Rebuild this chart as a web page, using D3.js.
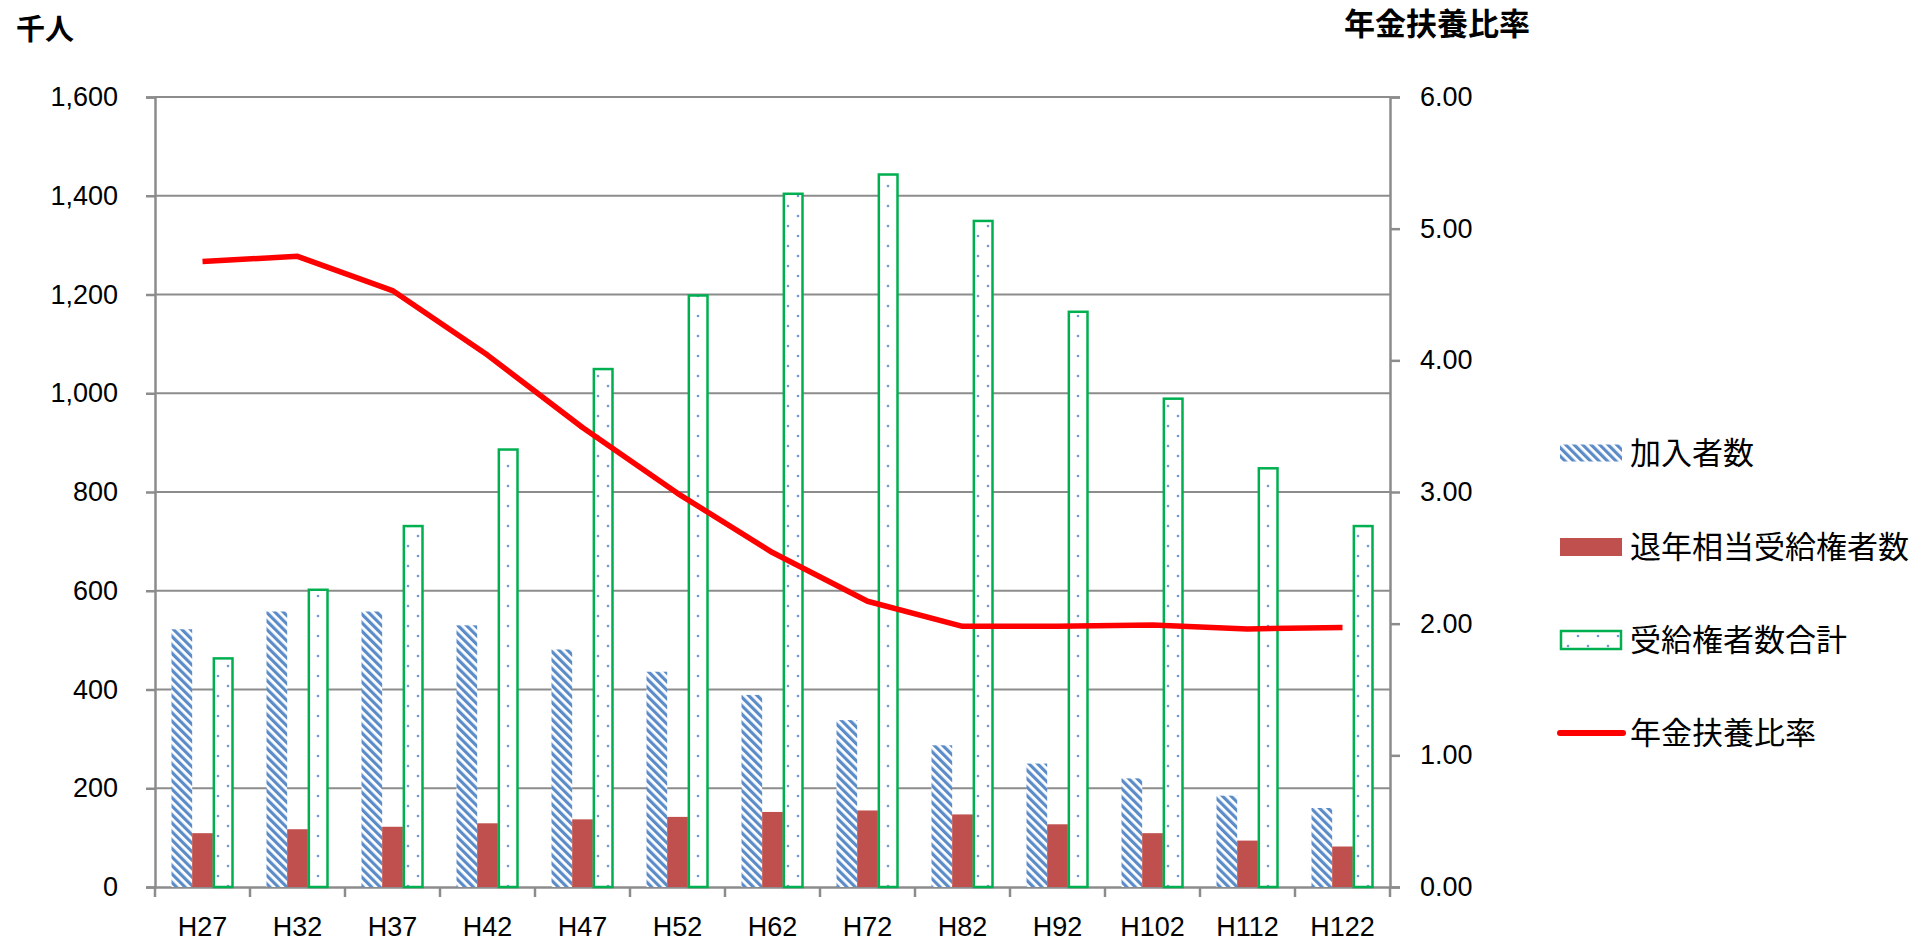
<!DOCTYPE html>
<meta charset="utf-8">
<style>
  body { margin: 0; background: #fff; }
  text { font-family: 'Liberation Sans', Arial, sans-serif; fill: #000; }
  .jp { font-family: 'Noto Sans CJK JP', sans-serif; }
</style>
<script src="https://d3js.org/d3.v7.min.js"></script>
<div id="chart"></div>
<script>
// data (thousand persons / ratio)
var years = ["H27","H32","H37","H42","H47","H52","H62","H72","H82","H92","H102","H112","H122"];
var members = [522, 558, 558, 530, 481, 436, 389, 338, 287, 250, 220, 185, 160];
var retiredEq = [109, 117, 122, 129, 137, 142, 152, 155, 147, 127, 109, 94, 82];
var recipients = [463, 602, 731, 886, 1049, 1198, 1404, 1443, 1349, 1165, 989, 848, 731];
var ratio = [4.75, 4.79, 4.53, 4.04, 3.49, 2.99, 2.54, 2.17, 1.98, 1.98, 1.99, 1.96, 1.97];
var leftTicks = [0, 200, 400, 600, 800, 1000, 1200, 1400, 1600];
var rightTicks = [0, 1, 2, 3, 4, 5, 6];
var seriesNames = ["加入者数", "退年相当受給権者数", "受給権者数合計", "年金扶養比率"];

var W = 1923, H = 944;
var plot = {left: 155, right: 1390, top: 97, bottom: 887};

var svg = d3.select("#chart").append("svg")
  .attr("width", W).attr("height", H);

// patterns
var defs = svg.append("defs");
var stripe = defs.append("pattern")
  .attr("id", "stripe")
  .attr("patternUnits", "userSpaceOnUse")
  .attr("width", 6).attr("height", 6)
  .attr("patternTransform", "rotate(-45)");
stripe.append("rect").attr("width", 6).attr("height", 6).attr("fill", "#fff");
stripe.append("rect").attr("width", 3.2).attr("height", 6).attr("fill", "#5b8cc8");

var dots = defs.append("pattern")
  .attr("id", "dots")
  .attr("patternUnits", "userSpaceOnUse")
  .attr("x", 3).attr("y", 1)
  .attr("width", 20).attr("height", 20);
dots.append("rect").attr("width", 20).attr("height", 20).attr("fill", "#fff");
dots.append("circle").attr("cx", 5).attr("cy", 5).attr("r", 1.3).attr("fill", "#6f9bd3");
dots.append("circle").attr("cx", 15).attr("cy", 15).attr("r", 1.3).attr("fill", "#6f9bd3");

// scales
var x = d3.scaleBand().domain(years).range([plot.left, plot.right]);
var inner = d3.scaleBand().domain([0, 1, 2])
  .range([16.5, x.bandwidth() - 16.5]);
var y = d3.scaleLinear().domain([0, 1600]).range([plot.bottom, plot.top]);
var y2 = d3.scaleLinear().domain([0, 6]).range([plot.bottom, plot.top]);

// gridlines
svg.append("g")
  .selectAll("line")
  .data(leftTicks.filter(function(d) { return d > 0; }))
  .enter().append("line")
    .attr("x1", plot.left).attr("x2", plot.right)
    .attr("y1", function(d) { return y(d); })
    .attr("y2", function(d) { return y(d); })
    .attr("stroke", "#8c8c8c")
    .attr("stroke-width", 2);

// left axis
var gl = svg.append("g")
  .attr("transform", "translate(" + plot.left + ",0)")
  .call(d3.axisLeft(y).tickValues(leftTicks).tickSize(9).tickPadding(28)
    .tickFormat(d3.format(",")));
gl.selectAll("text").style("font-size", "27px");

// right axis
var gr = svg.append("g")
  .attr("transform", "translate(" + plot.right + ",0)")
  .call(d3.axisRight(y2).tickValues(rightTicks).tickSize(10).tickPadding(20)
    .tickFormat(d3.format(".2f")));
gr.selectAll("text").style("font-size", "27px");

// bottom axis
var gb = svg.append("g")
  .attr("transform", "translate(0," + plot.bottom + ")")
  .call(d3.axisBottom(x).tickSize(0).tickPadding(30));
gb.selectAll("text").style("font-size", "27px");
gb.selectAll(".sep")
  .data(d3.range(years.length + 1))
  .enter().append("line")
    .attr("class", "sep")
    .attr("x1", function(i) { return plot.left + i * x.step(); })
    .attr("x2", function(i) { return plot.left + i * x.step(); })
    .attr("y1", 0).attr("y2", 10)
    .attr("stroke", "#8c8c8c").attr("stroke-width", 2.5);

[gl, gr, gb].forEach(function(g) {
  g.select(".domain").attr("stroke", "#8c8c8c").attr("stroke-width", 2.5);
  g.selectAll(".tick line").attr("stroke", "#8c8c8c").attr("stroke-width", 2.5);
});

// bars
svg.append("g").selectAll("rect")
  .data(members).enter().append("rect")
    .attr("x", function(d, i) { return x(years[i]) + inner(0); })
    .attr("y", function(d) { return y(d); })
    .attr("width", inner.bandwidth())
    .attr("height", function(d) { return plot.bottom - y(d); })
    .attr("fill", "url(#stripe)");

svg.append("g").selectAll("rect")
  .data(retiredEq).enter().append("rect")
    .attr("x", function(d, i) { return x(years[i]) + inner(1); })
    .attr("y", function(d) { return y(d); })
    .attr("width", inner.bandwidth())
    .attr("height", function(d) { return plot.bottom - y(d); })
    .attr("fill", "#c0504d");

svg.append("g").selectAll("rect")
  .data(recipients).enter().append("rect")
    .attr("x", function(d, i) { return x(years[i]) + inner(2) + 1; })
    .attr("y", function(d) { return y(d); })
    .attr("width", inner.bandwidth() - 2)
    .attr("height", function(d) { return plot.bottom - y(d); })
    .attr("fill", "url(#dots)")
    .attr("stroke", "#00b050")
    .attr("stroke-width", 2.5);

// ratio line
var line = d3.line()
  .x(function(d, i) { return x(years[i]) + x.bandwidth() / 2; })
  .y(function(d) { return y2(d); });
svg.append("path")
  .datum(ratio)
  .attr("d", line)
  .attr("fill", "none")
  .attr("stroke", "#ff0000")
  .attr("stroke-width", 5.5)
  .attr("stroke-linejoin", "round");

// axis titles
svg.append("text").attr("class", "jp")
  .attr("x", 16).attr("y", 40)
  .style("font-size", "29px").style("font-weight", "bold")
  .text("千人");
svg.append("text").attr("class", "jp")
  .attr("x", 1344).attr("y", 35)
  .style("font-size", "31px").style("font-weight", "bold")
  .text("年金扶養比率");

// legend
var lg = svg.append("g").attr("transform", "translate(1560,0)");
var ly = [453, 547, 640, 733];
lg.append("rect").attr("x", 0).attr("y", ly[0] - 8.5).attr("width", 62).attr("height", 17)
  .attr("fill", "url(#stripe)");
lg.append("rect").attr("x", 0).attr("y", ly[1] - 9).attr("width", 62).attr("height", 18)
  .attr("fill", "#c0504d");
lg.append("rect").attr("x", 1).attr("y", ly[2] - 9).attr("width", 60).attr("height", 18)
  .attr("fill", "url(#dots)").attr("stroke", "#00b050").attr("stroke-width", 2.5);
lg.append("line").attr("x1", 0).attr("x2", 63).attr("y1", ly[3]).attr("y2", ly[3])
  .attr("stroke", "#ff0000").attr("stroke-width", 6).attr("stroke-linecap", "round");
lg.selectAll(".lt")
  .data(seriesNames).enter().append("text")
    .attr("class", "jp")
    .attr("x", 70)
    .attr("y", function(d, i) { return ly[i]; })
    .attr("dy", "0.36em")
    .style("font-size", "31px")
    .text(function(d) { return d; });
</script>
